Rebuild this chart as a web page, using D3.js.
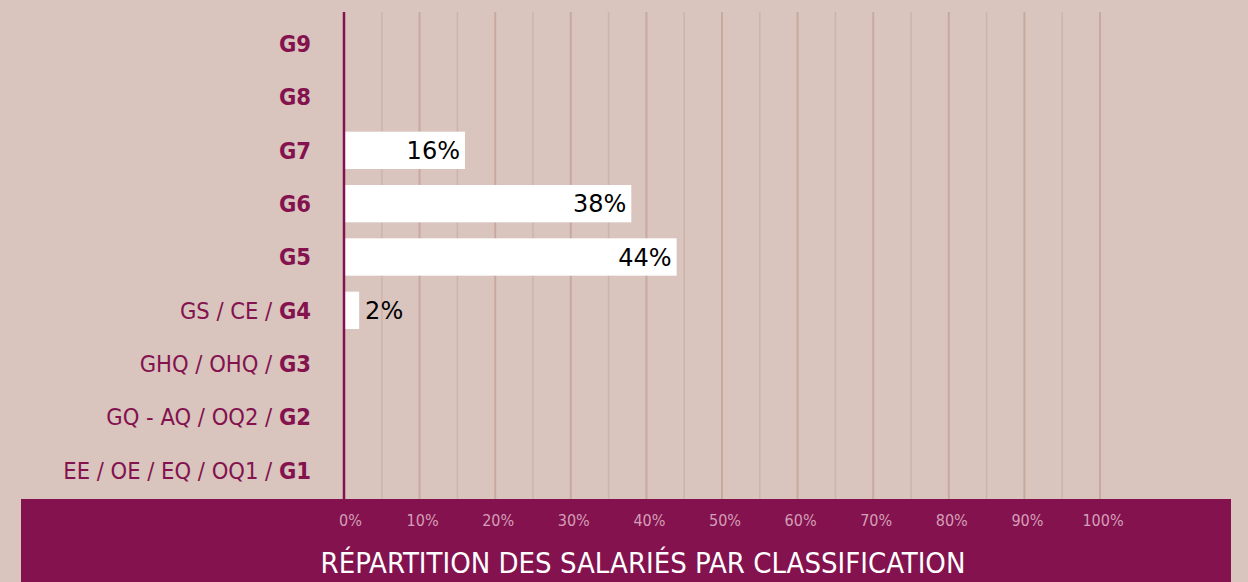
<!DOCTYPE html>
<html><head><meta charset="utf-8">
<script src="https://cdn.jsdelivr.net/npm/d3@7"></script>
<style>
html,body{margin:0;padding:0;background:#d9c5bd;}
svg{display:block;}
</style></head>
<body>
<svg id="chart" width="1248" height="582"></svg>
<script>
const categories = ["G9","G8","G7","G6","G5","G4","G3","G2","G1"];
const prefixes = ["","","","","","GS / CE / ","GHQ / OHQ / ","GQ - AQ / OQ2 / ","EE / OE / EQ / OQ1 / "];
const values = [null,null,16,38,44,2,null,null,null];
const tickValues = [0,10,20,30,40,50,60,70,80,90,100];
const tickLabels = ["0%","10%","20%","30%","40%","50%","60%","70%","80%","90%","100%"];
const minorTicks = [5,15,25,35,45,55,65,75,85,95];
const title = "RÉPARTITION DES SALARIÉS PAR CLASSIFICATION";

const W = 1248, H = 582;
const purple = "#83124f";
const svg = d3.select("#chart");
svg.append("rect").attr("width",W).attr("height",H).attr("fill","#d9c5bd");

const x = d3.scaleLinear().domain([0,100]).range([344,1100]);
const y = d3.scaleBand().domain(categories).range([17,497]).paddingInner(0.3).paddingOuter(0.15);

// gridlines
svg.append("g").selectAll("line").data(minorTicks).join("line")
  .attr("x1",d=>x(d)).attr("x2",d=>x(d)).attr("y1",12).attr("y2",499)
  .attr("stroke","#ceb3aa").attr("stroke-width",1.5);
svg.append("g").selectAll("line").data(tickValues.slice(1)).join("line")
  .attr("x1",d=>x(d)).attr("x2",d=>x(d)).attr("y1",12).attr("y2",499)
  .attr("stroke","#c8a99f").attr("stroke-width",2);

// bottom band
svg.append("rect").attr("x",21).attr("y",499).attr("width",1210).attr("height",83).attr("fill",purple);

// bars
const data = categories.map((c,i)=>({c, v: values[i], p: prefixes[i]}));
svg.append("g").selectAll("rect").data(data.filter(d=>d.v!=null)).join("rect")
  .attr("x",x(0)+1).attr("y",d=>y(d.c)).attr("width",d=>x(d.v)-x(0)-1).attr("height",y.bandwidth())
  .attr("fill","#ffffff");

// value labels
svg.append("g").selectAll("text").data(data.filter(d=>d.v!=null)).join("text")
  .attr("x",d=> d.v < 5 ? x(d.v)+6 : x(d.v)-5)
  .attr("y",d=>y(d.c)+y.bandwidth()/2)
  .attr("dy","0.36em")
  .attr("text-anchor",d=> d.v < 5 ? "start" : "end")
  .attr("font-family","DejaVu Sans, sans-serif").attr("font-size",24)
  .attr("fill","#000")
  .text(d=>d.v+"%");

// y axis line
svg.append("line").attr("x1",x(0)).attr("x2",x(0)).attr("y1",12).attr("y2",499)
  .attr("stroke",purple).attr("stroke-width",2.5);

// category labels
const lbl = svg.append("g").selectAll("text").data(data).join("text")
  .attr("x",311).attr("y",d=>y(d.c)+y.bandwidth()/2).attr("dy","0.36em")
  .attr("text-anchor","end")
  .attr("font-family","DejaVu Sans Condensed, DejaVu Sans, sans-serif").attr("font-size",23.5)
  .attr("fill",purple);
lbl.append("tspan").attr("font-weight","normal").text(d=>d.p);
lbl.append("tspan").attr("font-weight","bold").text(d=>d.c);

// x axis tick labels
const xAxis = d3.axisBottom(x).tickValues(tickValues).tickFormat((d,i)=>tickLabels[i]).tickSize(0).tickPadding(0);
const gx = svg.append("g").attr("transform","translate(2.5,526)").call(xAxis);
gx.select(".domain").remove();
gx.selectAll("text").attr("font-family","DejaVu Sans Condensed, DejaVu Sans, sans-serif")
  .attr("font-size",16).attr("fill","#d59fb6").attr("dy","0")
  .attr("dx",d=> d===0 ? 3.5 : 0);

// title
svg.append("text").attr("x",643).attr("y",573).attr("text-anchor","middle")
  .attr("font-family","DejaVu Sans Condensed, DejaVu Sans, sans-serif").attr("font-size",29)
  .attr("fill","#ffffff").text(title);
</script>
</body></html>
